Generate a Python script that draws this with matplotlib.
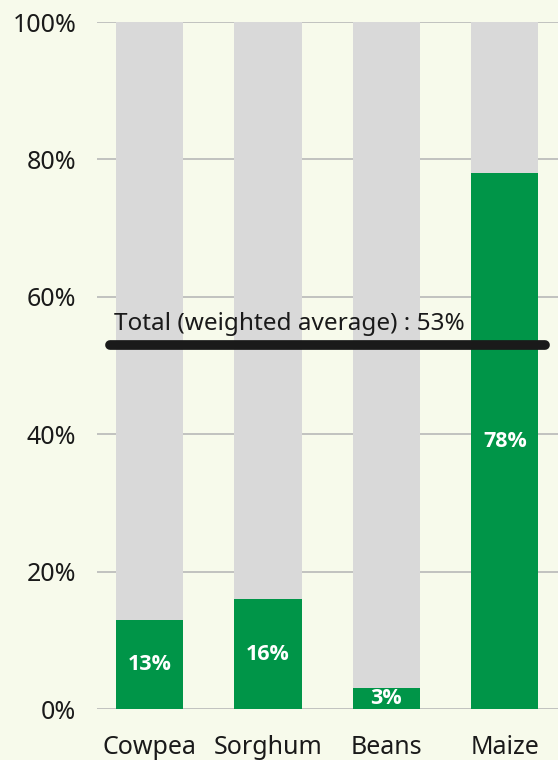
import matplotlib
matplotlib.use("Agg")
import matplotlib.pyplot as plt

categories = ["Cowpea", "Sorghum", "Beans", "Maize"]
values = [13, 16, 3, 78]
total_avg = 53
yticks = [0, 20, 40, 60, 80, 100]
ytick_labels = ["0%", "20%", "40%", "60%", "80%", "100%"]

BG = "#f7faeb"
GREEN = "#009548"
GREY = "#d9d9d9"
FONT = "Noto Sans"
BOLD_FONT = "Open Sans"

fig = plt.figure(figsize=(5.58, 7.6), dpi=100, facecolor=BG)
ax = fig.add_axes([0.174, 0.0671, 0.826, 0.9039], facecolor=BG)

x = list(range(len(categories)))
w = 0.57
ax.bar(x, [100] * len(x), width=w, color=GREY, zorder=2)
ax.bar(x, values, width=w, color=GREEN, zorder=3)

for xi, v in zip(x, values):
    ax.text(xi, v / 2, f"{v}%", ha="center", va="center", color="white",
            fontsize=15.5, fontweight="bold", family=BOLD_FONT, zorder=4)

ax.plot([-0.335, 3.343], [total_avg, total_avg], color="#1a1a1a", lw=7,
        solid_capstyle="round", zorder=5)
ax.text(-0.30, total_avg + 1.3, f"Total (weighted average) : {total_avg}%",
        ha="left", va="bottom", fontsize=17.5, family=FONT, color="#1a1a1a", zorder=6)

ax.set_xlim(-0.445, 3.45)
ax.set_ylim(0, 100)
ax.set_yticks(yticks)
ax.set_yticklabels(ytick_labels, family=FONT, fontsize=18, color="#1a1a1a")
ax.set_xticks(x)
ax.set_xticklabels(categories, family=FONT, fontsize=18, color="#1a1a1a")
ax.tick_params(axis="y", length=0, pad=15)
ax.tick_params(axis="x", length=0, pad=19)
ax.yaxis.grid(True, color="#b8b8b8", lw=1.2, zorder=1)
ax.set_axisbelow(True)
for s in ax.spines.values():
    s.set_visible(False)

fig.savefig("out.png", dpi=100, facecolor=BG)
